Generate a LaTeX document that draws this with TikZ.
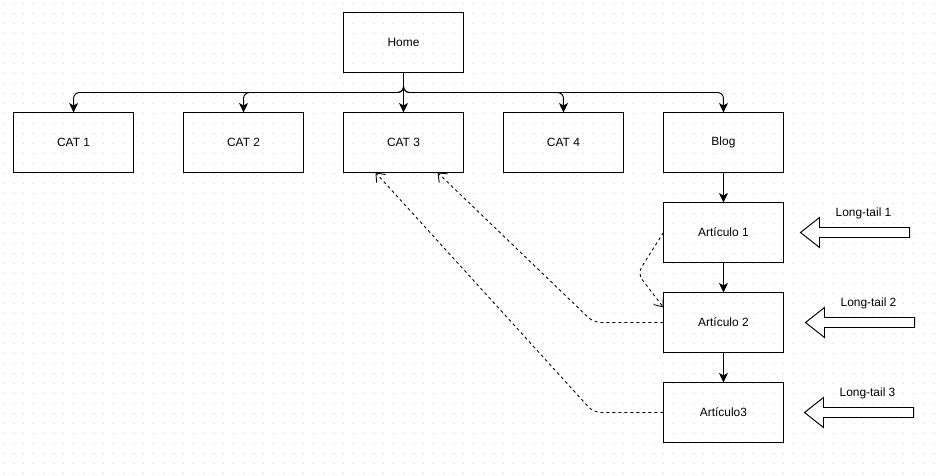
\documentclass[tikz,border=0pt]{standalone}
\usepackage{fontspec}
\setmainfont{Liberation Sans}
\usetikzlibrary{positioning,arrows.meta,calc}

\begin{document}
\begin{tikzpicture}[x=0.02cm, y=-0.02cm, node distance=0.8cm,
    font=\fontsize{6.8}{8}\selectfont,
    box/.style = {draw, line width=0.55pt, minimum width=2.4cm, minimum height=1.2cm, inner sep=0pt, outer sep=0pt},
    link/.style = {line width=0.55pt, rounded corners=0.12cm, -{Stealth[length=1.9mm, width=1.8mm, inset=0.5mm]}},
    ref/.style = {line width=0.5pt, dash pattern=on 0.06cm off 0.06cm, rounded corners=0.15cm, -{Straight Barb[length=1.5mm, width=2.4mm, line width=0.5pt]}},
    tail/.style = {draw, line width=0.55pt, fill=white}]
    \useasboundingbox (-0.5,-0.5) rectangle (941.5,475.5);
    % dotted grid
    \foreach \j in {0,...,47}
        \draw[gray!40, line width=0.02cm, dash pattern=on 0.02cm off 0.18cm] (2.5,3+10*\j) -- (942,3+10*\j);

    \node[box] (cat3) at (403,142) {CAT 3};
    \node[box] (home) [above=of cat3] {Home};
    \node[box] (cat2) [left=of cat3] {CAT 2};
    \node[box] (cat1) [left=1cm of cat2] {CAT 1};
    \node[box] (cat4) [right=of cat3] {CAT 4};
    \node[box] (blog) [right=of cat4] {Blog};
    \node[box] (art1) [below=0.6cm of blog] {Artículo 1};
    \node[box] (art2) [below=0.6cm of art1] {Artículo 2};
    \node[box] (art3) [below=0.6cm of art2] {Artículo3};

    \foreach \c in {cat1,cat2,cat4,blog}
        \draw[link] (home.south) -- ++(0,20) -| (\c.north);
    \draw[link] (home) -- (cat3);
    \draw[link] (blog) -- (art1);
    \draw[link] (art1) -- (art2);
    \draw[link] (art2) -- (art3);

    % internal links
    \coordinate (bend1) at (637,273);
    \coordinate (bend2) at (593,322);
    \coordinate (bend3) at (593,412);
    \draw[ref] (art1.west) -- (bend1) -- ($(art2.north west)+(0,15)$);
    \draw[ref] (art2.west) -- (bend2) -- ($(cat3.south)+(34,0)$);
    \draw[ref] (art3.west) -- (bend3) -- ($(cat3.south)+(-28,0)$);

    % long-tail arrows
    \foreach \t/\y/\n in {800/232/1, 805/322/2, 804/412/3} {
        \draw[tail] (\t,\y) -- ++(19,-15) -- ++(0,10) -- ++(90,0) -- ++(0,10) -- ++(-90,0) -- ++(0,10) -- cycle;
        \node (lt\n) at (\t+63,\y-19) {Long-tail \n};
    }
\end{tikzpicture}
\end{document}
